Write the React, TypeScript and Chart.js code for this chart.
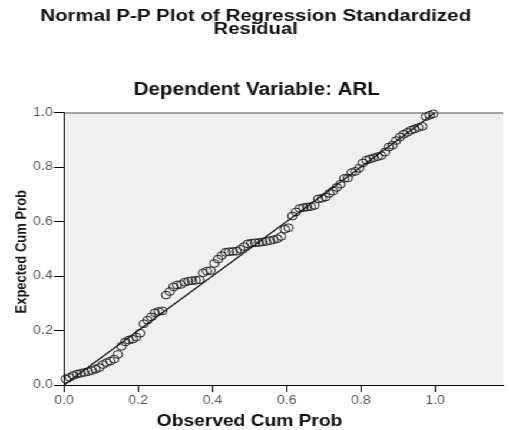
import React, { useEffect, useRef } from "react";
import { Chart, registerables } from "chart.js";

Chart.register(...registerables);

const titleLines = ["Normal P-P Plot of Regression Standardized", "Residual"];
const subtitle = "Dependent Variable: ARL";
const xTitle = "Observed Cum Prob";
const yTitle = "Expected Cum Prob";

const xTicks = [0, 0.2, 0.4, 0.6, 0.8, 1.0];
const yTicks = [0, 0.2, 0.4, 0.6, 0.8, 1.0];

const refLineX = [0, 1];
const refLineY = [0, 1];

const observedCumProb = [
  0.005, 0.015, 0.025, 0.035, 0.045, 0.055, 0.065, 0.075, 0.085, 0.095,
  0.105, 0.115, 0.125, 0.135, 0.145, 0.155, 0.165, 0.175, 0.185, 0.195,
  0.205, 0.215, 0.225, 0.235, 0.245, 0.255, 0.265, 0.275, 0.285, 0.295,
  0.305, 0.315, 0.325, 0.335, 0.345, 0.355, 0.365, 0.375, 0.385, 0.395,
  0.405, 0.415, 0.425, 0.435, 0.445, 0.455, 0.465, 0.475, 0.485, 0.495,
  0.505, 0.515, 0.525, 0.535, 0.545, 0.555, 0.565, 0.575, 0.585, 0.595,
  0.605, 0.615, 0.625, 0.635, 0.645, 0.655, 0.665, 0.675, 0.685, 0.695,
  0.705, 0.715, 0.725, 0.735, 0.745, 0.755, 0.765, 0.775, 0.785, 0.795,
  0.805, 0.815, 0.825, 0.835, 0.845, 0.855, 0.865, 0.875, 0.885, 0.895,
  0.905, 0.915, 0.925, 0.935, 0.945, 0.955, 0.965, 0.975, 0.985, 0.995,
];

const expectedCumProb = [
  0.022, 0.028, 0.035, 0.040, 0.043, 0.046, 0.049, 0.053, 0.058, 0.064,
  0.075, 0.082, 0.088, 0.095, 0.112, 0.142, 0.158, 0.165, 0.168, 0.176,
  0.190, 0.225, 0.238, 0.250, 0.265, 0.270, 0.272, 0.330, 0.343, 0.360,
  0.367, 0.369, 0.377, 0.381, 0.383, 0.384, 0.386, 0.412, 0.418, 0.420,
  0.446, 0.462, 0.475, 0.487, 0.489, 0.490, 0.491, 0.498, 0.508, 0.518,
  0.521, 0.522, 0.523, 0.525, 0.527, 0.530, 0.533, 0.537, 0.545, 0.572,
  0.577, 0.620, 0.635, 0.648, 0.651, 0.653, 0.655, 0.659, 0.683, 0.685,
  0.690, 0.703, 0.712, 0.725, 0.737, 0.758, 0.760, 0.780, 0.784, 0.795,
  0.815, 0.825, 0.830, 0.834, 0.838, 0.842, 0.855, 0.873, 0.880, 0.897,
  0.910, 0.920, 0.927, 0.935, 0.940, 0.945, 0.949, 0.985, 0.990, 0.995,
];

const FONT = "'Liberation Sans', Arial, Helvetica, sans-serif";
const INNER_W = 432;
const INNER_H = 430;
const OUTER_W = 509;

function stretchedText(ctx: any, text: string, x: number, y: number, sx: number) {
  ctx.save();
  ctx.translate(x, y);
  ctx.scale(sx, 1);
  ctx.fillText(text, 0, 0);
  ctx.restore();
}

const decorPlugin = {
  id: "decor",
  beforeDraw(chart: any) {
    const { ctx, chartArea } = chart;
    ctx.save();
    ctx.fillStyle = "#ffffff";
    ctx.fillRect(0, 0, chart.width, chart.height);
    ctx.fillStyle = "#f0f0f0";
    ctx.fillRect(
      chartArea.left,
      chartArea.top,
      chartArea.right - chartArea.left,
      chartArea.bottom - chartArea.top
    );
    ctx.restore();
  },
  afterDraw(chart: any) {
    const { ctx, chartArea } = chart;
    const xs = chart.scales.x;
    ctx.save();
    // top border
    ctx.strokeStyle = "#555555";
    ctx.lineWidth = 1;
    ctx.beginPath();
    ctx.moveTo(chartArea.left, chartArea.top + 0.5);
    ctx.lineTo(chartArea.right, chartArea.top + 0.5);
    ctx.stroke();

    ctx.fillStyle = "#111111";
    ctx.textAlign = "center";
    ctx.textBaseline = "alphabetic";
    const cx = chart.width / 2;
    ctx.font = `bold 16px ${FONT}`;
    stretchedText(ctx, titleLines[0], cx + 1, 20.5, 1.085);
    stretchedText(ctx, titleLines[1], cx + 1, 34.3, 1.07);
    ctx.font = `bold 17.5px ${FONT}`;
    ctx.fillText(subtitle, cx + 2, 95);

    ctx.font = `bold 16.3px ${FONT}`;
    ctx.fillText(xTitle, xs.getPixelForValue(0.5), 426);

    ctx.save();
    ctx.translate(18, (chartArea.top + chartArea.bottom) / 2 + 3);
    ctx.rotate(-Math.PI / 2);
    ctx.textBaseline = "middle";
    ctx.font = `bold 13px ${FONT}`;
    ctx.fillText(yTitle, 0, 0);
    ctx.restore();
    ctx.restore();
  },
};

export default function App() {
  const canvasRef = useRef<HTMLCanvasElement | null>(null);

  useEffect(() => {
    if (!canvasRef.current) return;
    const points = observedCumProb.map((x, i) => ({ x, y: expectedCumProb[i] }));
    const line = refLineX.map((x, i) => ({ x, y: refLineY[i] }));
    const chart = new Chart(canvasRef.current, {
      type: "scatter",
      data: {
        datasets: [
          {
            label: "fit",
            data: line,
            showLine: true,
            borderColor: "#111111",
            borderWidth: 1.1,
            pointRadius: 0,
            clip: false as any,
          },
          {
            label: "residuals",
            data: points,
            pointStyle: "circle",
            pointRadius: 3.9,
            pointBorderWidth: 1,
            pointBorderColor: "#222222",
            pointBackgroundColor: "rgba(0,0,0,0)",
            clip: false as any,
          },
        ],
      },
      options: {
        animation: false,
        responsive: true,
        maintainAspectRatio: false,
        devicePixelRatio: 1,
        layout: { padding: { top: 112.5, left: 0, right: 0, bottom: 0 } },
        plugins: {
          legend: { display: false },
          tooltip: { enabled: false },
          title: { display: false },
        },
        scales: {
          x: {
            type: "linear",
            min: 0,
            max: 1.183,
            afterFit: (scale: any) => {
              scale.height = 45;
            },
            afterBuildTicks: (scale: any) => {
              scale.ticks = xTicks.map((v) => ({ value: v }));
            },
            grid: {
              display: true,
              drawOnChartArea: false,
              drawTicks: true,
              tickLength: 7,
              color: "#000000",
              lineWidth: 1,
            },
            border: { display: true, color: "#000000", width: 1 },
            ticks: {
              includeBounds: false,
              padding: 1,
              color: "#555555",
              font: { family: FONT, size: 12 },
              callback: (v: any) => Number(v).toFixed(1),
              maxRotation: 0,
            },
          },
          y: {
            type: "linear",
            min: 0,
            max: 1.0,
            afterFit: (scale: any) => {
              scale.width = 54.3;
            },
            afterBuildTicks: (scale: any) => {
              scale.ticks = yTicks.map((v) => ({ value: v }));
            },
            grid: {
              display: true,
              drawOnChartArea: false,
              drawTicks: true,
              tickLength: 8.5,
              color: "#000000",
              lineWidth: 1,
            },
            border: { display: true, color: "#000000", width: 1 },
            ticks: {
              includeBounds: false,
              padding: 1,
              color: "#555555",
              font: { family: FONT, size: 12 },
              callback: (v: any) => Number(v).toFixed(1),
            },
          },
        },
      },
      plugins: [decorPlugin],
    } as any);
    return () => chart.destroy();
  }, []);

  return (
    <div
      style={{
        position: "absolute",
        left: 0,
        top: 0,
        width: INNER_W + "px",
        height: INNER_H + "px",
        transform: `scaleX(${OUTER_W / INNER_W})`,
        transformOrigin: "0 0",
        background: "#ffffff",
      }}
    >
      <canvas ref={canvasRef} />
    </div>
  );
}
